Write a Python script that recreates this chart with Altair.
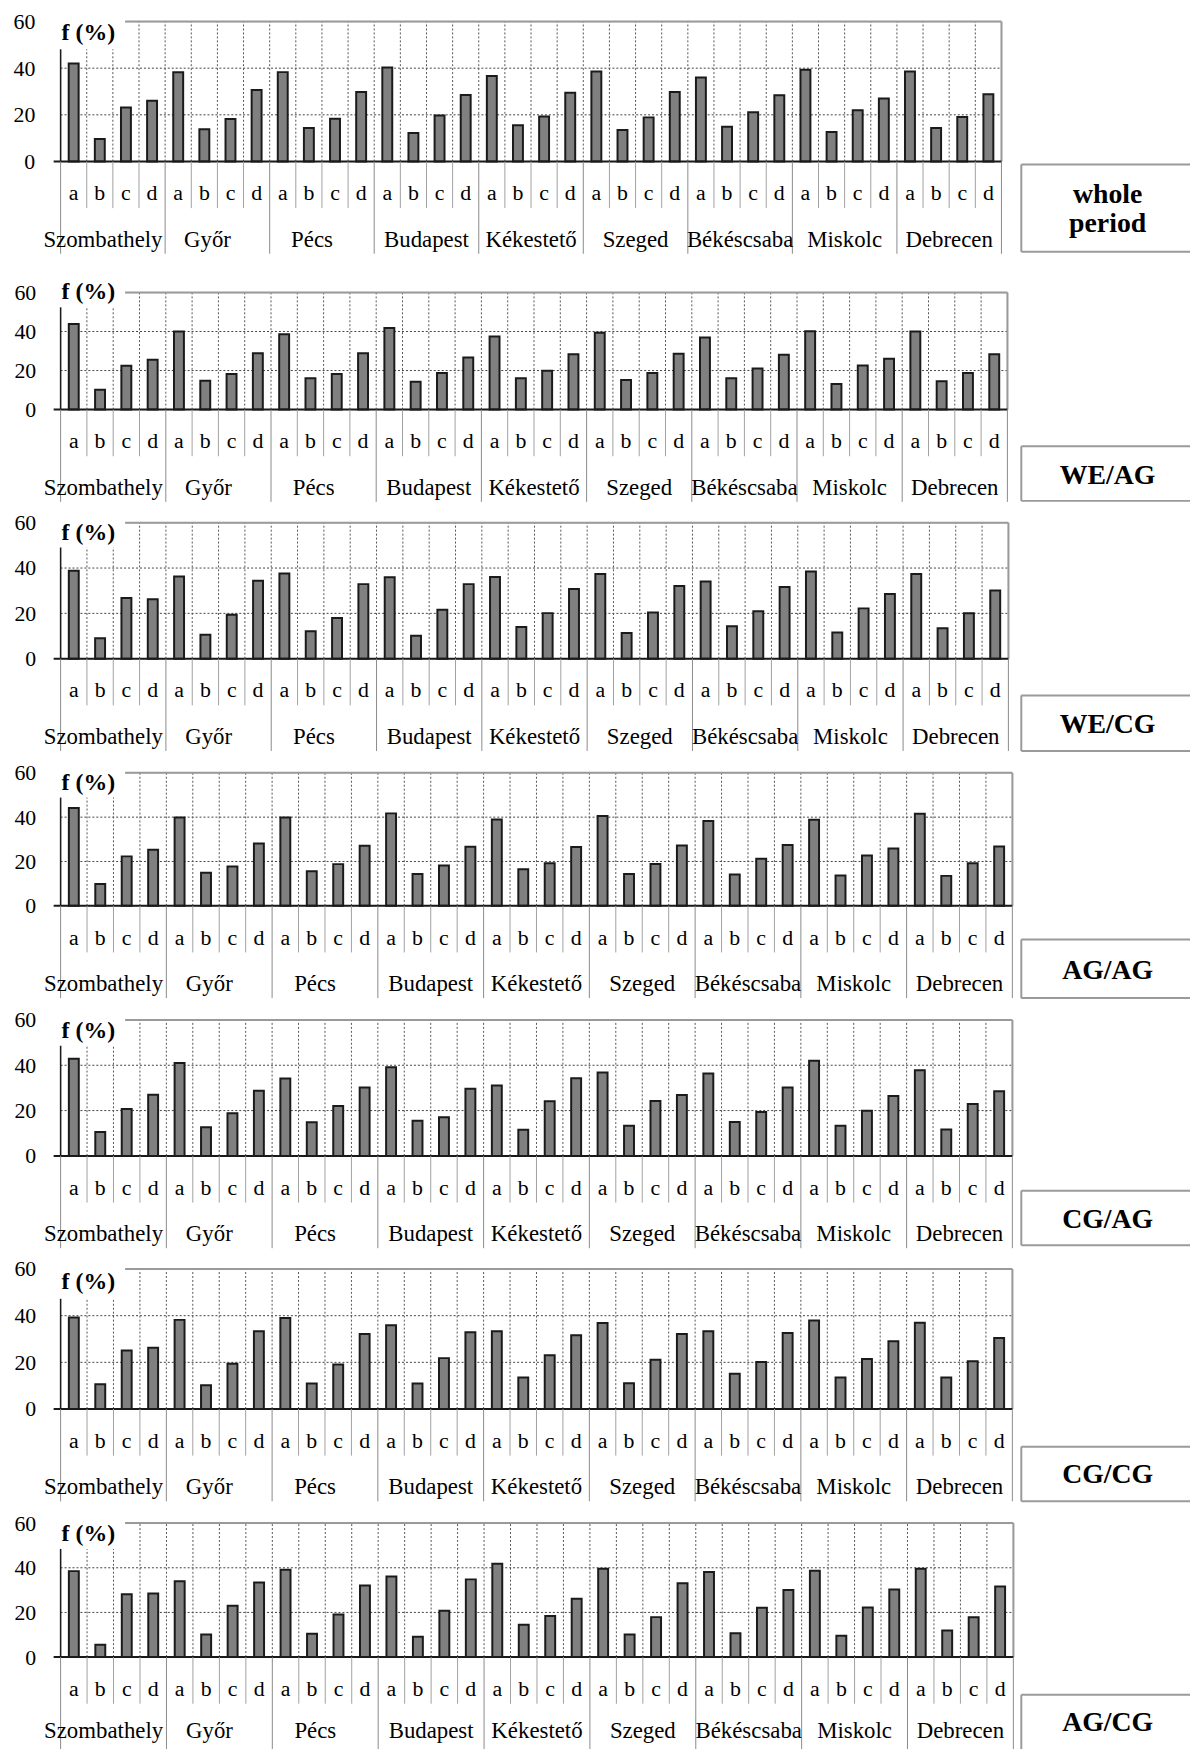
import altair as alt
import pandas as pd
import json

# ---------------- data ----------------
CITIES = ["Szombathely", "Győr", "Pécs", "Budapest", "Kékestető",
          "Szeged", "Békéscsaba", "Miskolc", "Debrecen"]
LETTERS = ["a", "b", "c", "d"]
Y_TICKS = [0, 20, 40, 60]
Y_TITLE = "f (%)"
PERIOD_LABELS = [["whole", "period"], ["WE/AG"], ["WE/CG"], ["AG/AG"],
                 ["CG/AG"], ["CG/CG"], ["AG/CG"]]

V_WHOLE = [42.0, 9.6, 23.1, 26.0, 38.2, 13.8, 18.2, 30.6, 38.3, 14.3, 18.3, 29.8,
           40.3, 12.2, 19.7, 28.5, 36.6, 15.5, 19.3, 29.5, 38.6, 13.5, 18.9, 29.8,
           36.0, 14.9, 21.1, 28.4, 39.3, 12.6, 22.0, 27.0, 38.6, 14.3, 19.1, 28.8]
V_WE_AG = [43.9, 10.2, 22.4, 25.5, 40.0, 14.8, 18.2, 28.9, 38.6, 16.0, 18.2, 28.9,
           41.8, 14.3, 18.7, 26.7, 37.4, 16.0, 19.9, 28.4, 39.3, 15.1, 18.7, 28.6,
           36.9, 16.0, 21.1, 28.1, 40.1, 13.1, 22.6, 26.0, 40.0, 14.5, 18.7, 28.4]
V_WE_CG = [38.8, 9.0, 26.8, 26.2, 36.3, 10.6, 19.4, 34.4, 37.6, 12.1, 17.9, 32.9,
           35.9, 10.1, 21.6, 32.9, 36.0, 14.0, 20.1, 30.7, 37.4, 11.3, 20.4, 32.1,
           34.1, 14.3, 20.9, 31.6, 38.5, 11.6, 22.2, 28.5, 37.4, 13.4, 20.0, 30.1]
V_AG_AG = [44.1, 9.8, 22.3, 25.3, 39.8, 14.9, 17.7, 28.1, 39.8, 15.6, 18.8, 27.1,
           41.7, 14.3, 18.2, 26.6, 38.9, 16.5, 19.2, 26.5, 40.5, 14.3, 18.9, 27.2,
           38.3, 14.1, 21.2, 27.4, 38.8, 13.7, 22.7, 25.9, 41.5, 13.5, 19.2, 26.8]
V_CG_AG = [42.9, 10.5, 20.7, 27.0, 41.0, 12.6, 18.8, 28.8, 34.2, 14.9, 22.0, 30.2,
           39.1, 15.5, 17.1, 29.6, 31.1, 11.5, 24.1, 34.3, 36.8, 13.3, 24.2, 26.9,
           36.4, 15.0, 19.4, 30.2, 42.0, 13.3, 19.9, 26.4, 37.8, 11.7, 22.9, 28.5]
V_CG_CG = [39.2, 10.6, 25.1, 26.3, 38.2, 10.2, 19.4, 33.3, 39.0, 10.9, 19.1, 32.1,
           35.9, 10.9, 21.8, 32.9, 33.3, 13.5, 23.0, 31.6, 36.9, 11.0, 21.1, 32.1,
           33.3, 15.1, 20.1, 32.6, 37.9, 13.5, 21.4, 29.0, 37.0, 13.5, 20.5, 30.4]
V_AG_CG = [38.5, 5.5, 28.1, 28.5, 34.0, 10.1, 23.0, 33.4, 39.1, 10.4, 19.1, 32.1,
           36.1, 9.1, 20.7, 34.8, 41.8, 14.5, 18.4, 26.1, 39.6, 10.1, 17.9, 33.1,
           38.1, 10.7, 22.1, 30.0, 38.7, 9.6, 22.2, 30.3, 39.6, 11.9, 17.8, 31.6]
VALUES = [V_WHOLE, V_WE_AG, V_WE_CG, V_AG_AG, V_CG_AG, V_CG_CG, V_AG_CG]

# ---------------- layout / style (pixels) ----------------
LAYOUT = [
    dict(w=948, h=141, left=60, k=12, pad=26, fdy=12, ax=28, box=(3, 91), lab=(34, 63), cy=79),
    dict(w=954, h=118, left=60, k=37, pad=25, fdy=0, ax=15, box=(37, 92), lab=(67,), cy=79),
    dict(w=955, h=137, left=60, k=19, pad=25, fdy=10, ax=25, box=(37, 93), lab=(67,), cy=79),
    dict(w=959, h=134, left=60, k=19, pad=25, fdy=10, ax=25, box=(34, 93), lab=(66,), cy=79),
    dict(w=959, h=137, left=60, k=19, pad=25, fdy=11, ax=26, box=(35, 90), lab=(65,), cy=79),
    dict(w=959, h=141, left=60, k=19, pad=25, fdy=13, ax=30, box=(38, 93), lab=(67,), cy=79),
    dict(w=960, h=135, left=60, k=19, pad=25, fdy=11, ax=26, box=(38, None), lab=(66,), cy=75),
]
LINE_END = 93
FONT = "Liberation Serif"
BAR_FILL = "#808080"
BAR_STROKE = "#1a1a1a"
FRAME = "#9a9a9a"
DOT = "#555555"
SHIFTED = json.dumps(CITIES[:3], ensure_ascii=False)


def panel(i):
    L = LAYOUT[i]
    W, H, left = L["w"], L["h"], L["left"]
    df = pd.DataFrame({
        "key": [f"{c}|{l}" for c in CITIES for l in LETTERS],
        "city": [c for c in CITIES for l in LETTERS],
        "letter": [l for c in CITIES for l in LETTERS],
        "v": VALUES[i],
    })
    keys = list(df["key"])
    xs = alt.Scale(domain=keys, paddingInner=0, paddingOuter=0)
    ys = alt.Scale(domain=[0, 60], nice=False, zero=True)
    yax = alt.Axis(values=Y_TICKS, title=None, domain=False, ticks=False, grid=False,
                   labelFont=FONT, labelFontSize=22, labelColor="black",
                   labelPadding=L["pad"], labelOverlap=False)

    def X(bp=None):
        if bp is None:
            return alt.X("key:N", scale=xs, axis=None)
        return alt.X("key:N", scale=xs, axis=None, bandPosition=bp)

    base = alt.Chart(df)
    one = alt.Chart(pd.DataFrame({"z": [0]}))

    vgrid = base.transform_filter(alt.datum.key != keys[0]).mark_rule(
        color=DOT, strokeWidth=1, strokeDash=[2, 2]).encode(
        x=X(0), y=alt.YDatum(0, scale=ys, axis=yax), y2=alt.Y2Datum(60))
    hgrid = alt.Chart(pd.DataFrame({"g": [20, 40]})).mark_rule(
        color="#444444", strokeWidth=1, strokeDash=[2, 2]).encode(
        y=alt.Y("g:Q", scale=ys, axis=yax), x=alt.value(0), x2=alt.value(W))
    top = one.mark_rule(color=FRAME, strokeWidth=2).encode(
        y=alt.YDatum(60, scale=ys, axis=yax), x=alt.value(0), x2=alt.value(W))
    right = one.mark_rule(color=FRAME, strokeWidth=2).encode(
        x=alt.value(W), y=alt.YDatum(0, scale=ys, axis=yax), y2=alt.Y2Datum(60))
    bars = base.mark_bar(size=10, fill=BAR_FILL, stroke=BAR_STROKE, strokeWidth=2).encode(
        x=X(), y=alt.Y("v:Q", scale=ys, axis=yax))
    zero = one.mark_rule(color="#1a1a1a", strokeWidth=2).encode(
        y=alt.YDatum(0, scale=ys, axis=yax), x=alt.value(-7), x2=alt.value(W))
    white = one.mark_rect(color="white").encode(
        x=alt.value(-2), x2=alt.value(125 - left),
        y=alt.value(min(-2, L["fdy"] - 13)), y2=alt.value(L["ax"]))
    yline = one.mark_rule(color="#1a1a1a", strokeWidth=1.5).encode(
        x=alt.value(0), y=alt.YDatum(0, scale=ys, axis=yax), y2=alt.value(L["ax"]))
    ftitle = one.mark_text(align="left", baseline="middle", font=FONT, fontSize=24,
                           fontWeight="bold", color="black").encode(
        x=alt.value(1), y=alt.value(L["fdy"]), text=alt.value(Y_TITLE))

    ldiv = base.transform_filter(alt.datum.letter != "a").mark_rule(
        color="#a0a0a0", strokeWidth=1).encode(
        x=X(0), y=alt.value(H), y2=alt.value(H + 47))
    cdiv = base.transform_filter(alt.datum.letter == "a").mark_rule(
        color="#8a8a8a", strokeWidth=1).encode(
        x=X(0), y=alt.value(H), y2=alt.value(H + LINE_END))
    edge = base.transform_filter(alt.datum.key == keys[-1]).mark_rule(
        color="#8a8a8a", strokeWidth=1).encode(
        x=X(1), y=alt.value(H), y2=alt.value(H + LINE_END))
    ltext = base.mark_text(font=FONT, fontSize=22, color="black", baseline="middle").encode(
        x=X(), y=alt.value(H + 32), text="letter:N")
    ctext1 = base.transform_filter(
        f"datum.letter == 'c' && indexof({SHIFTED}, datum.city) >= 0"
    ).mark_text(font=FONT, fontSize=23, color="black", baseline="middle", dx=-10).encode(
        x=X(0), y=alt.value(H + L["cy"]), text="city:N")
    ctext2 = base.transform_filter(
        f"datum.letter == 'c' && indexof({SHIFTED}, datum.city) < 0"
    ).mark_text(font=FONT, fontSize=23, color="black", baseline="middle").encode(
        x=X(0), y=alt.value(H + L["cy"]), text="city:N")

    bt, bb = L["box"]
    bx1, bx2 = 1028 - left, 1198 - left
    boxes = [
        one.mark_rule(color=FRAME, strokeWidth=2).encode(
            x=alt.value(bx1), x2=alt.value(bx2), y=alt.value(H + bt)),
    ]
    if bb is not None:
        boxes.append(one.mark_rule(color=FRAME, strokeWidth=2).encode(
            x=alt.value(bx1), x2=alt.value(bx2), y=alt.value(H + bb)))
        boxes.append(one.mark_rule(color=FRAME, strokeWidth=2).encode(
            x=alt.value(bx1), y=alt.value(H + bt), y2=alt.value(H + bb)))
    else:
        boxes.append(one.mark_rule(color=FRAME, strokeWidth=2).encode(
            x=alt.value(bx1), y=alt.value(H + bt), y2=alt.value(H + LINE_END)))
    labs = []
    for txt, dy in zip(PERIOD_LABELS[i], L["lab"]):
        labs.append(one.mark_text(font=FONT, fontSize=28, fontWeight="bold", color="black",
                                  baseline="middle", align="center").encode(
            x=alt.value(1115 - left), y=alt.value(H + dy), text=alt.value(txt)))

    spacer = one.mark_rule(color="white", strokeWidth=1).encode(
        x=alt.value(-(left - 8)), y=alt.value(-L["k"]), y2=alt.value(-L["k"] + 1))

    return alt.layer(spacer, hgrid, vgrid, top, right, bars, zero, white, yline, ftitle,
                     ldiv, cdiv, edge, ltext, ctext1, ctext2, *boxes, *labs).properties(
        width=W, height=H)


chart = alt.vconcat(*[panel(i) for i in range(7)], spacing=0).properties(
    padding={"left": 0, "top": -6, "right": 0, "bottom": -7}
).configure_view(stroke=None).configure(font=FONT)

chart.save("out.html", embed_options={"renderer": "svg", "actions": False})
